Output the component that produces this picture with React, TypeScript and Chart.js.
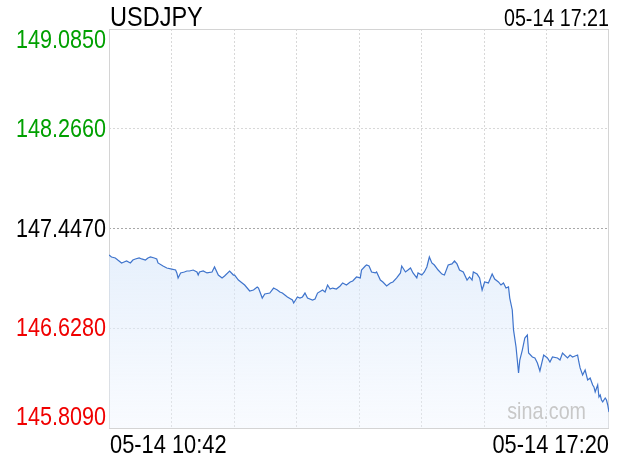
import React, { useEffect, useRef } from "react";
import { Chart, registerables } from "chart.js";

Chart.register(...registerables);

const SYMBOL = "USDJPY";
const UPDATED = "05-14 17:21";
const X_LABELS = ["05-14 10:42", "05-14 17:20"];
const WATERMARK = "sina.com";
const PREV_CLOSE = 147.447;
const Y_TICKS = [149.085, 148.266, 147.447, 146.628, 145.809];
const X_MAX = 398; // minutes from 10:42 to 17:20
const X_DIVISIONS = 8;

// minutes after 10:42
const MINUTES = [
  0, 2, 5, 7, 9, 10, 12, 14, 17, 19,
  21, 24, 26, 29, 31, 33, 36, 38, 39, 43,
  46, 50, 53, 54, 55, 57, 60, 62, 64, 67,
  70, 71, 72, 75, 78, 82, 84, 87, 90, 92,
  96, 99, 100, 103, 106, 108, 112, 115, 118, 119,
  122, 124, 128, 131, 134, 136, 138, 140, 142, 146,
  147, 150, 152, 154, 156, 158, 162, 164, 166, 170,
  172, 174, 176, 178, 181, 184, 186, 189, 192, 194,
  197, 200, 201, 204, 205, 207, 209, 212, 213, 216,
  218, 221, 224, 226, 229, 232, 233, 236, 238, 240,
  242, 245, 246, 249, 251, 253, 255, 257, 259, 262,
  265, 267, 270, 273, 275, 277, 279, 282, 285, 287,
  289, 290, 293, 295, 297, 299, 302, 305, 307, 310,
  312, 314, 316, 318, 319, 321, 322, 324, 326, 327,
  329, 331, 333, 334, 337, 339, 341, 343, 346, 349,
  351, 353, 357, 359, 361, 365, 367, 369, 371, 373,
  374, 375, 377, 379, 381, 383, 385, 386, 387, 389,
  390, 391, 392, 393, 395, 396, 397, 398,
];

const PRICES = [
  147.229, 147.213, 147.205, 147.188, 147.172, 147.164, 147.172, 147.18, 147.164, 147.188,
  147.197, 147.205, 147.197, 147.188, 147.205, 147.213, 147.205, 147.197, 147.164, 147.139,
  147.123, 147.114, 147.106, 147.082, 147.041, 147.082, 147.09, 147.098, 147.098, 147.106,
  147.09, 147.065, 147.09, 147.098, 147.082, 147.09, 147.131, 147.065, 147.041, 147.057,
  147.098, 147.065, 147.065, 147.024, 147.0, 146.983, 146.934, 146.942, 146.967, 146.958,
  146.876, 146.909, 146.917, 146.958, 146.942, 146.926, 146.917, 146.901, 146.885, 146.86,
  146.835, 146.885, 146.876, 146.885, 146.917, 146.876, 146.86, 146.868, 146.917, 146.942,
  146.926, 146.983, 146.95, 146.958, 146.95, 146.975, 147.0, 146.983, 147.008, 147.016,
  147.049, 147.041, 147.106, 147.139, 147.147, 147.139, 147.09, 147.082, 147.09, 147.024,
  147.008, 146.975, 147.0, 147.008, 147.041, 147.082, 147.139, 147.09, 147.106, 147.123,
  147.082, 147.041, 147.082, 147.065, 147.09, 147.131, 147.213, 147.164, 147.147, 147.106,
  147.073, 147.065, 147.147, 147.156, 147.18, 147.156, 147.106, 147.09, 147.024, 147.049,
  147.024, 147.09, 147.073, 147.041, 146.942, 147.008, 147.0, 147.073, 147.032, 147.008,
  146.983, 147.0, 146.958, 146.967, 146.876, 146.778, 146.614, 146.474, 146.261, 146.367,
  146.449, 146.548, 146.573, 146.425, 146.392, 146.384, 146.343, 146.277, 146.408, 146.384,
  146.351, 146.392, 146.384, 146.367, 146.425, 146.384, 146.408, 146.392, 146.4, 146.408,
  146.351, 146.302, 146.244, 146.285, 146.203, 146.22, 146.162, 146.146, 146.105, 146.162,
  146.064, 146.08, 146.039, 146.023, 146.055, 146.039, 145.998, 145.94,
];

const FONT = '"Liberation Sans", Arial, sans-serif';

// draw horizontally condensed text (the reference uses a narrow sans face)
function drawText(
  ctx: CanvasRenderingContext2D,
  text: string,
  x: number,
  y: number,
  size: number,
  align: CanvasTextAlign,
  baseline: CanvasTextBaseline,
  color: string,
  squeeze = 0.84
) {
  ctx.save();
  ctx.font = `${size}px ${FONT}`;
  ctx.textAlign = align;
  ctx.textBaseline = baseline;
  ctx.fillStyle = color;
  ctx.translate(x, y);
  ctx.scale(squeeze, 1);
  ctx.fillText(text, 0, 0);
  ctx.restore();
}

const framePlugin = {
  id: "frame",
  beforeDatasetsDraw(chart: any) {
    const { ctx, chartArea: a } = chart;
    ctx.save();
    ctx.strokeStyle = "#d4d4d4";
    ctx.lineWidth = 1;
    ctx.strokeRect(a.left + 0.5, a.top + 0.5, a.right - a.left - 1, a.bottom - a.top);
    ctx.restore();
  },
  afterDraw(chart: any) {
    const { ctx, chartArea: a, scales } = chart;
    // header
    drawText(ctx, SYMBOL, a.left + 1, 26, 28, "left", "alphabetic", "#000", 0.84);
    drawText(ctx, UPDATED, a.right, 26, 24, "right", "alphabetic", "#000", 0.82);

    // y labels
    Y_TICKS.forEach((v, i) => {
      let y = scales.y.getPixelForValue(v);
      if (i === 0) y += 11;
      if (i === Y_TICKS.length - 1) y -= 11;
      const color = v > PREV_CLOSE ? "#00a000" : v < PREV_CLOSE ? "#f00000" : "#000";
      drawText(ctx, v.toFixed(4), a.left - 3, y + 1, 26, "right", "middle", color, 0.83);
    });

    // x labels
    drawText(ctx, X_LABELS[0], a.left + 1, a.bottom + 25, 26, "left", "alphabetic", "#000", 0.84);
    drawText(ctx, X_LABELS[1], a.right, a.bottom + 25, 26, "right", "alphabetic", "#000", 0.84);

    // watermark
    drawText(ctx, WATERMARK, a.right - 23, a.bottom - 9, 24, "right", "alphabetic", "#c8c8c8", 0.82);
  },
};

export default function App() {
  const ref = useRef<HTMLCanvasElement | null>(null);

  useEffect(() => {
    if (!ref.current) return;
    const data = MINUTES.map((m, i) => ({ x: m, y: PRICES[i] }));
    const chart = new Chart(ref.current, {
      type: "line",
      data: {
        datasets: [
          {
            data,
            borderColor: "#3f74cc",
            borderWidth: 1.2,
            pointRadius: 0,
            tension: 0,
            fill: "start",
            backgroundColor: (c: any) => {
              const ch = c.chart;
              const a = ch.chartArea;
              if (!a) return "rgba(225,236,252,0.6)";
              const top = ch.scales.y.getPixelForValue(147.25);
              const g = ch.ctx.createLinearGradient(0, top, 0, a.bottom);
              g.addColorStop(0, "rgba(214,230,250,0.6)");
              g.addColorStop(1, "rgba(236,243,254,0.35)");
              return g;
            },
          },
        ],
      },
      options: {
        animation: false,
        responsive: false,
        maintainAspectRatio: false,
        layout: { padding: { left: 109, top: 29, right: 11, bottom: 32 } },
        plugins: { legend: { display: false }, tooltip: { enabled: false } },
        scales: {
          x: {
            type: "linear",
            min: 0,
            max: X_MAX,
            ticks: { display: false },
            grid: {
              drawTicks: false,
              lineWidth: 1,
              color: (c: any) =>
                c.tick && (c.tick.value <= 0 || c.tick.value >= X_MAX) ? "rgba(0,0,0,0)" : "#d8d8d8",
            },
            border: { display: false, dash: [2, 2] },
            afterBuildTicks: (s: any) => {
              s.ticks = Array.from({ length: X_DIVISIONS + 1 }, (_, i) => ({ value: (i * X_MAX) / X_DIVISIONS }));
            },
          },
          y: {
            type: "linear",
            min: Y_TICKS[Y_TICKS.length - 1],
            max: Y_TICKS[0],
            ticks: { display: false },
            grid: {
              drawTicks: false,
              lineWidth: 1,
              color: (c: any) => {
                if (!c.tick) return "#d8d8d8";
                const v = c.tick.value;
                if (v >= Y_TICKS[0] - 1e-6 || v <= Y_TICKS[Y_TICKS.length - 1] + 1e-6) return "rgba(0,0,0,0)";
                if (Math.abs(v - PREV_CLOSE) < 1e-6) return "#a8a8a8";
                return "#d8d8d8";
              },
            },
            border: { display: false, dash: [2, 2] },
            afterBuildTicks: (s: any) => {
              s.ticks = Y_TICKS.map((v) => ({ value: v }));
            },
          },
        },
      },
      plugins: [framePlugin],
    });
    return () => chart.destroy();
  }, []);

  return (
    <div style={{ position: "absolute", left: 0, top: 0, width: 620, height: 460, background: "#fff" }}>
      <canvas ref={ref} width={620} height={460} style={{ width: 620, height: 460, display: "block" }} />
    </div>
  );
}
